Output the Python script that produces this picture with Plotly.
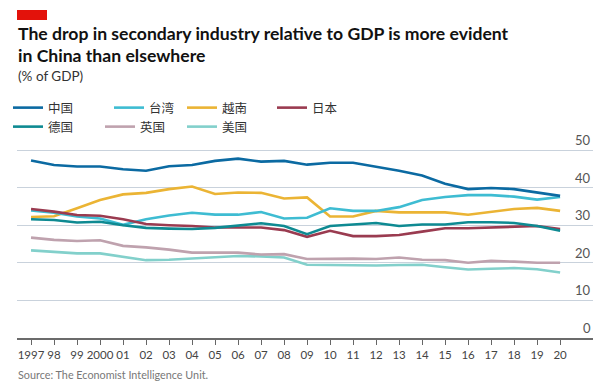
import plotly.graph_objects as go

years = list(range(1997, 2021))
tick_labels = ["1997", "98", "99", "2000", "01", "02", "03", "04", "05", "06", "07", "08",
               "09", "10", "11", "12", "13", "14", "15", "16", "17", "18", "19", "20"]
y_ticks = [0, 10, 20, 30, 40, 50]

china = [47.2, 46.0, 45.6, 45.6, 44.9, 44.5, 45.7, 46.0, 47.1, 47.7, 46.9, 47.1,
         46.1, 46.6, 46.6, 45.6, 44.5, 43.2, 41.0, 39.6, 39.9, 39.6, 38.6, 37.8]
taiwan = [33.9, 33.3, 32.3, 31.8, 30.1, 31.6, 32.6, 33.3, 32.8, 32.8, 33.5, 31.8,
          32.0, 34.5, 33.8, 33.8, 34.8, 36.7, 37.5, 38.0, 38.0, 37.6, 36.8, 37.5]
vietnam = [32.2, 32.4, 34.5, 36.7, 38.2, 38.6, 39.6, 40.3, 38.3, 38.7, 38.6, 37.1,
           37.4, 32.3, 32.3, 33.8, 33.4, 33.4, 33.4, 32.8, 33.5, 34.3, 34.6, 33.8]
japan = [34.3, 33.6, 32.7, 32.5, 31.6, 30.3, 30.0, 29.8, 29.4, 29.4, 29.4, 28.7,
         26.9, 28.5, 27.1, 27.1, 27.4, 28.3, 29.2, 29.2, 29.4, 29.6, 29.8, 29.0]
germany = [31.6, 31.4, 30.7, 30.9, 30.0, 29.3, 29.1, 29.0, 29.3, 29.9, 30.5, 29.8,
           27.6, 29.8, 30.2, 30.6, 29.8, 30.2, 30.2, 30.8, 30.8, 30.6, 29.8, 28.5]
uk = [26.7, 26.1, 25.8, 26.0, 24.5, 24.1, 23.5, 22.7, 22.7, 22.7, 22.2, 22.3,
      21.0, 21.1, 21.1, 21.0, 21.4, 20.8, 20.7, 20.0, 20.5, 20.3, 20.0, 20.0]
usa = [23.3, 22.8, 22.5, 22.5, 21.5, 20.7, 20.8, 21.1, 21.4, 21.8, 21.7, 21.4,
       19.5, 19.4, 19.4, 19.3, 19.4, 19.5, 18.8, 18.2, 18.4, 18.6, 18.3, 17.4]

series_names = ["中国", "台湾", "越南", "日本", "德国", "英国", "美国"]
series_values = [china, taiwan, vietnam, japan, germany, uk, usa]
colors = ["#0b6aa2", "#3ebcd2", "#ebb434", "#9a3b50", "#0e8a92", "#bfa2ae", "#82d0cb"]
draw_order = [6, 5, 2, 1, 3, 4, 0]

# page has an 8px body margin: figure pixel = viewport pixel - 8
OFF = 8
W, H = 600, 373
L, R, T, B = 9, 15, 140, 43
Y_MAX = 190 / 3.76

# legend slots (viewport px): left x, top y
leg_pos = [(6, 93), (109, 93), (182, 93), (272, 93), (7, 112), (100, 112), (182, 112)]
leg_ids = ["legend"] + [f"legend{k}" for k in range(2, 8)]

fig = go.Figure()
for i in draw_order:
    fig.add_trace(go.Scatter(
        x=years, y=series_values[i], mode="lines", name=series_names[i],
        line=dict(color=colors[i], width=2.6), legend=leg_ids[i],
        showlegend=True, hoverinfo="skip"))

font_cjk = "Noto Sans CJK SC, Lato, sans-serif"
font_txt = "Lato, Noto Sans, sans-serif"


def cx(vx):
    return (vx - OFF) / W


def cy(vy):
    return 1 - (vy - OFF) / H


legend_layout = {}
for k, lid in enumerate(leg_ids):
    lx, ly = leg_pos[k]
    legend_layout[lid] = dict(
        orientation="h", xref="container", yref="container",
        x=cx(lx), y=cy(ly), xanchor="left", yanchor="top", itemwidth=30,
        font=dict(family=font_cjk, size=12.5, color="#333"),
        bgcolor="rgba(0,0,0,0)", itemclick=False, itemdoubleclick=False)

fig.update_layout(
    width=W, height=H,
    margin=dict(l=L, r=R, t=T, b=B, autoexpand=False),
    paper_bgcolor="white", plot_bgcolor="white",
    showlegend=True,
    xaxis=dict(range=[1996.39, 2021.43], tickmode="array", tickvals=years,
               ticktext=tick_labels, ticks="outside", ticklen=5, tickcolor="#666",
               tickwidth=1, showgrid=False, zeroline=False,
               showline=True, linecolor="#6b6b6b", linewidth=1.6,
               tickfont=dict(family=font_txt, size=11.5, color="#444"), fixedrange=True),
    yaxis=dict(range=[0, Y_MAX], tickvals=y_ticks, showticklabels=False,
               showgrid=True, gridcolor="#c9d2dc", gridwidth=1,
               zeroline=False, showline=False, ticks="", fixedrange=True),
    **legend_layout,
)

for v in y_ticks:
    fig.add_annotation(text=str(v), xref="paper", yref="y", x=1, y=v,
                       xanchor="right", yanchor="bottom", yshift=0, showarrow=False,
                       font=dict(family=font_txt, size=13, color="#555"))


def px_x(p):
    return (p - OFF - L) / (W - L - R)


def px_y(p):
    return (H - B - (p - OFF)) / (H - T - B)


fig.add_shape(type="rect", xref="paper", yref="paper",
              x0=px_x(17), x1=px_x(47), y0=px_y(20), y1=px_y(10),
              fillcolor="#e3120b", line=dict(width=0))

fig.add_annotation(text="<b>The drop in secondary industry relative to GDP is more evident</b>",
                   xref="paper", yref="paper", x=px_x(16), y=px_y(34),
                   xanchor="left", yanchor="middle", showarrow=False,
                   font=dict(family=font_txt, size=17.6, color="#111"))
fig.add_annotation(text="<b>in China than elsewhere</b>",
                   xref="paper", yref="paper", x=px_x(16), y=px_y(55),
                   xanchor="left", yanchor="middle", showarrow=False,
                   font=dict(family=font_txt, size=17.6, color="#111"))
fig.add_annotation(text="(% of GDP)",
                   xref="paper", yref="paper", x=px_x(16), y=px_y(76),
                   xanchor="left", yanchor="middle", showarrow=False,
                   font=dict(family=font_txt, size=13.5, color="#333"))
fig.add_annotation(text="Source: The Economist Intelligence Unit.",
                   xref="paper", yref="paper", x=px_x(16), y=px_y(374),
                   xanchor="left", yanchor="middle", showarrow=False,
                   font=dict(family=font_txt, size=10.8, color="#777"))

fig.write_html("out.html")
